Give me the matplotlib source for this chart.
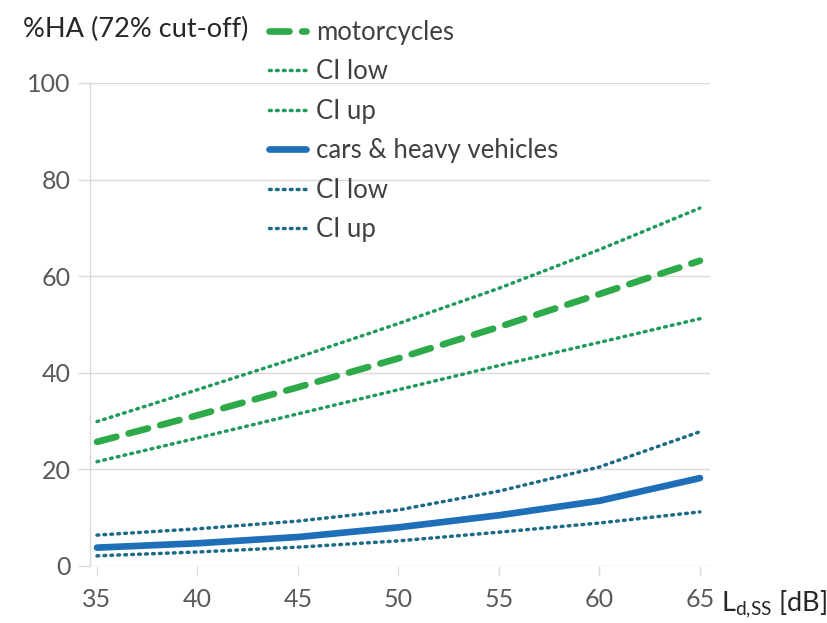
import matplotlib
matplotlib.use("Agg")
import matplotlib.pyplot as plt

# Data
ld = [35, 40, 45, 50, 55, 60, 65]
moto = [25.7, 31.2, 37.0, 43.0, 49.5, 56.3, 63.2]
moto_low = [21.6, 26.5, 31.5, 36.5, 41.5, 46.3, 51.2]
moto_up = [29.9, 36.5, 43.2, 50.2, 57.5, 65.5, 74.1]
cars = [3.8, 4.7, 6.0, 8.0, 10.5, 13.5, 18.2]
cars_low = [2.1, 2.9, 3.9, 5.2, 7.0, 8.9, 11.2]
cars_up = [6.4, 7.7, 9.3, 11.6, 15.5, 20.5, 27.8]
y_ticks = [0, 20, 40, 60, 80, 100]
legend_labels = ["motorcycles", "CI low", "CI up", "cars & heavy vehicles", "CI low", "CI up"]

plt.rcParams['font.family'] = ['Lato', 'DejaVu Sans']
plt.rcParams['mathtext.fontset'] = 'custom'
plt.rcParams['mathtext.rm'] = 'Lato'
plt.rcParams['mathtext.default'] = 'regular'

green = '#2eaa4a'
green_ci = '#1f9a5c'
blue = '#1f6fb8'
blue_ci = '#1b6a88'
grid_c = '#d9d9d9'
tick_c = '#595959'

fig = plt.figure(figsize=(8.27, 6.23), dpi=100)
ax = fig.add_axes([0.1088, 0.0915, 0.7497, 0.7753])

# gridlines
for y in y_ticks:
    ax.axhline(y, color=grid_c, lw=1.0, zorder=0)

dot = dict(lw=2.5, dashes=(0.5, 1.5), dash_capstyle='round')
l1, = ax.plot(ld, moto, color=green, lw=4.8, dashes=(3.0, 1.9), dash_capstyle='round')
l2, = ax.plot(ld, moto_low, color=green_ci, **dot)
l3, = ax.plot(ld, moto_up, color=green_ci, **dot)
l4, = ax.plot(ld, cars, color=blue, lw=4.8, solid_capstyle='round')
l5, = ax.plot(ld, cars_low, color=blue_ci, **dot)
l6, = ax.plot(ld, cars_up, color=blue_ci, **dot)

ax.set_xlim(34.65, 65.5)
ax.set_ylim(0, 100)
ax.set_xticks(ld)
ax.set_yticks(y_ticks)
ax.tick_params(axis='y', length=9, color=grid_c, width=1.0, labelsize=18, labelcolor=tick_c, pad=5)
ax.tick_params(axis='x', length=7, color=grid_c, width=1.0, labelsize=18, labelcolor=tick_c, pad=9)
for s in ['top', 'right', 'bottom']:
    ax.spines[s].set_visible(False)
ax.spines['left'].set_color(grid_c)
ax.spines['left'].set_linewidth(1.0)

fig.text(0.028, 0.952, "%HA (72% cut-off)", fontsize=19.5, color='#262626', ha='left', va='center')
fig.text(0.872, 0.03, r"L$_{\mathrm{d{,}SS}}$ [dB]", fontsize=19.5, color='#262626', ha='left', va='center')

leg = fig.legend([l1, l2, l3, l4, l5, l6], legend_labels, loc='upper left',
                 bbox_to_anchor=(0.297, 1.005), frameon=False, fontsize=18.5,
                 handlelength=1.45, handletextpad=0.4, labelspacing=0.56, labelcolor='#404040')

fig.savefig("out.png", dpi=100)
